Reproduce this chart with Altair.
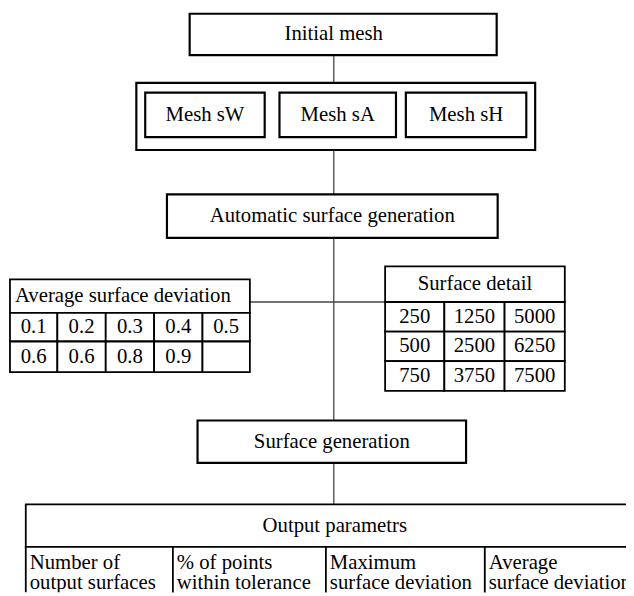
import altair as alt
import pandas as pd

# ---------------- chart content (labels / values) ----------------
top_node = "Initial mesh"
mesh_variants = ["Mesh sW", "Mesh sA", "Mesh sH"]
auto_node = "Automatic surface generation"
gen_node = "Surface generation"
deviation_title = "Average surface deviation"
deviation_values = ["0.1", "0.2", "0.3", "0.4", "0.5", "0.6", "0.6", "0.8", "0.9", ""]
detail_title = "Surface detail"
detail_values = ["250", "1250", "5000", "500", "2500", "6250", "750", "3750", "7500"]
output_title = "Output parametrs"
output_params = ["Number of\noutput surfaces", "% of points\nwithin tolerance",
                 "Maximum\nsurface deviation", "Average\nsurface deviation"]

# ---------------- layout (page-pixel coordinate system) ----------------
TOP_BOX = (192, 503, 10, 52)
OUTER_BOX = (138, 542, 80, 148)
MESH_BOXES = [(147, 268), (283, 401), (411, 533)]
MESH_Y = (90, 135)
AUTO_BOX = (169, 504, 193, 237)
GEN_BOX = (200, 472, 422, 465)
SPINE_X = 338
DEV_COLS = [10, 58, 107, 156, 205, 253]
DEV_ROWS = [279, 313, 342, 373]
DET_COLS = [390, 450, 511, 572]
DET_ROWS = [266, 302, 332, 362, 392]
OUT_COLS = [26, 175, 330, 491, 700]
OUT_ROWS = [507, 550, 620]
BRANCH_Y = 302

boxes, cells, centered, lefts, connectors = [], [], [], [], []

def box(lst, x, x2, y, y2):
    lst.append(dict(x=x, x2=x2, y=y, y2=y2))

# flow boxes
box(boxes, *TOP_BOX)
centered.append(dict(x=SPINE_X, y=(TOP_BOX[2] + TOP_BOX[3]) / 2, label=top_node))
box(boxes, *OUTER_BOX)
for (a, b), name in zip(MESH_BOXES, mesh_variants):
    box(boxes, a, b, MESH_Y[0], MESH_Y[1])
    centered.append(dict(x=(a + b) / 2, y=(MESH_Y[0] + MESH_Y[1]) / 2, label=name))
box(boxes, *AUTO_BOX)
centered.append(dict(x=(AUTO_BOX[0] + AUTO_BOX[1]) / 2, y=(AUTO_BOX[2] + AUTO_BOX[3]) / 2, label=auto_node))
box(boxes, *GEN_BOX)
centered.append(dict(x=(GEN_BOX[0] + GEN_BOX[1]) / 2, y=(GEN_BOX[2] + GEN_BOX[3]) / 2, label=gen_node))

# deviation table
box(cells, DEV_COLS[0], DEV_COLS[-1], DEV_ROWS[0], DEV_ROWS[1])
lefts.append(dict(x=DEV_COLS[0] + 5, y=(DEV_ROWS[0] + DEV_ROWS[1]) / 2, label=deviation_title))
for i, v in enumerate(deviation_values):
    r, c = divmod(i, 5)
    box(cells, DEV_COLS[c], DEV_COLS[c + 1], DEV_ROWS[r + 1], DEV_ROWS[r + 2])
    centered.append(dict(x=(DEV_COLS[c] + DEV_COLS[c + 1]) / 2,
                         y=(DEV_ROWS[r + 1] + DEV_ROWS[r + 2]) / 2, label=v))

# detail table
box(cells, DET_COLS[0], DET_COLS[-1], DET_ROWS[0], DET_ROWS[1])
centered.append(dict(x=(DET_COLS[0] + DET_COLS[-1]) / 2, y=(DET_ROWS[0] + DET_ROWS[1]) / 2, label=detail_title))
for i, v in enumerate(detail_values):
    r, c = divmod(i, 3)
    box(cells, DET_COLS[c], DET_COLS[c + 1], DET_ROWS[r + 1], DET_ROWS[r + 2])
    centered.append(dict(x=(DET_COLS[c] + DET_COLS[c + 1]) / 2,
                         y=(DET_ROWS[r + 1] + DET_ROWS[r + 2]) / 2, label=v))

# output table
box(cells, OUT_COLS[0], OUT_COLS[-1], OUT_ROWS[0], OUT_ROWS[1])
centered.append(dict(x=SPINE_X + 1, y=(OUT_ROWS[0] + OUT_ROWS[1]) / 2, label=output_title))
for c, p in enumerate(output_params):
    box(cells, OUT_COLS[c], OUT_COLS[c + 1], OUT_ROWS[1], OUT_ROWS[2])
    for k, line in enumerate(p.split("\n")):
        lefts.append(dict(x=OUT_COLS[c] + 4, y=OUT_ROWS[1] + 16 + k * 21, label=line))

# connectors
connectors.append(dict(x=SPINE_X, x2=SPINE_X, y=TOP_BOX[3], y2=OUTER_BOX[2]))
connectors.append(dict(x=SPINE_X, x2=SPINE_X, y=OUTER_BOX[3], y2=AUTO_BOX[2]))
connectors.append(dict(x=SPINE_X, x2=SPINE_X, y=AUTO_BOX[3], y2=GEN_BOX[2]))
connectors.append(dict(x=SPINE_X, x2=SPINE_X, y=GEN_BOX[3], y2=OUT_ROWS[0]))
connectors.append(dict(x=DEV_COLS[-1], x2=DET_COLS[0], y=BRANCH_Y, y2=BRANCH_Y))

XS = alt.Scale(domain=[8, 634], nice=False, zero=False)
YS = alt.Scale(domain=[8, 596], reverse=True, nice=False, zero=False)
FONT = "Liberation Serif, Times New Roman, DejaVu Serif, serif"
FS = 21

conn = alt.Chart(pd.DataFrame(connectors)).mark_rule(color="#444", strokeWidth=1.3).encode(
    x=alt.X("x:Q", scale=XS, axis=None), x2="x2:Q",
    y=alt.Y("y:Q", scale=YS, axis=None), y2="y2:Q")

box_layer = alt.Chart(pd.DataFrame(boxes)).mark_rect(
    fill="white", stroke="black", strokeWidth=2.2).encode(
    x=alt.X("x:Q", scale=XS, axis=None), x2="x2:Q",
    y=alt.Y("y:Q", scale=YS, axis=None), y2="y2:Q")

cell_layer = alt.Chart(pd.DataFrame(cells)).mark_rect(
    fill="white", stroke="black", strokeWidth=1.8, clip=True).encode(
    x=alt.X("x:Q", scale=XS, axis=None), x2="x2:Q",
    y=alt.Y("y:Q", scale=YS, axis=None), y2="y2:Q")

text_c = alt.Chart(pd.DataFrame(centered)).mark_text(
    font=FONT, fontSize=FS, color="black", align="center", baseline="middle", clip=True).encode(
    x=alt.X("x:Q", scale=XS, axis=None), y=alt.Y("y:Q", scale=YS, axis=None), text="label:N")

text_l = alt.Chart(pd.DataFrame(lefts)).mark_text(
    font=FONT, fontSize=FS, color="black", align="left", baseline="middle", clip=True).encode(
    x=alt.X("x:Q", scale=XS, axis=None), y=alt.Y("y:Q", scale=YS, axis=None), text="label:N")

chart = alt.layer(conn, box_layer, cell_layer, text_c, text_l).properties(
    width=626, height=588, padding=0, autosize="none"
).configure_view(stroke=None)

chart.save("out.html", embed_options={"renderer": "svg", "actions": False})
